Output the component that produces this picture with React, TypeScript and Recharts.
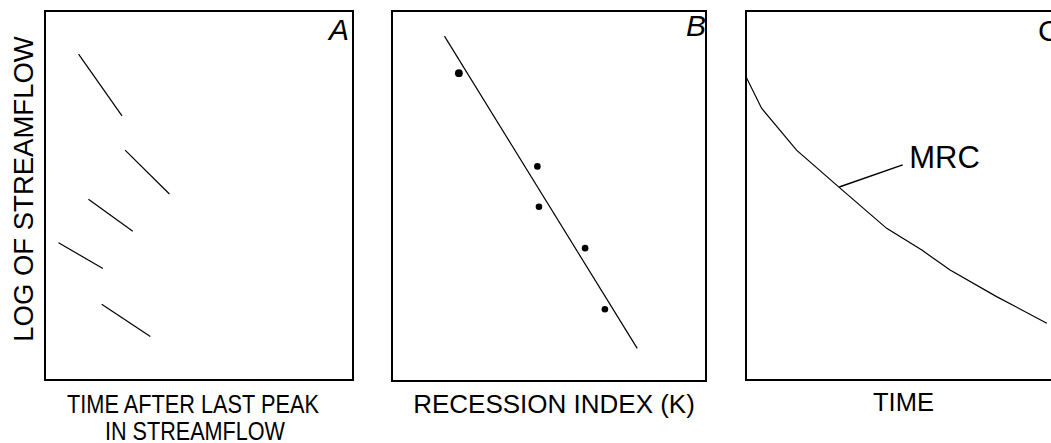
import React from "react";
import {
  ComposedChart,
  Line,
  Scatter,
  XAxis,
  YAxis,
  ReferenceArea,
  ReferenceDot,
  Label,
} from "recharts";

// Panel A: individual recession segments (x = time units, y = log flow units, 0-100 scale)
const segA1 = [{ x: 10.9, y: 88.3 }, { x: 25.0, y: 71.6 }];
const segA2 = [{ x: 26.0, y: 62.3 }, { x: 40.4, y: 50.4 }];
const segA3 = [{ x: 14.1, y: 49.0 }, { x: 28.5, y: 40.3 }];
const segA4 = [{ x: 4.4, y: 37.2 }, { x: 18.8, y: 30.2 }];
const segA5 = [{ x: 18.4, y: 20.5 }, { x: 34.2, y: 11.8 }];
const segmentsA = [segA1, segA2, segA3, segA4, segA5];

// Panel B: recession index points and fitted line
const pointsB = [
  { x: 21.3, y: 83.2, r: 3.9 },
  { x: 46.3, y: 58.0, r: 3.3 },
  { x: 46.8, y: 47.1, r: 3.3 },
  { x: 61.5, y: 35.9, r: 3.3 },
  { x: 67.8, y: 19.4, r: 3.3 },
];
const fitB = [{ x: 16.7, y: 93.2 }, { x: 78.1, y: 8.8 }];

// Panel C: master recession curve
const curveC = [
  { x: 0, y: 82.2 },
  { x: 5.0, y: 73.6 },
  { x: 16.1, y: 62.3 },
  { x: 29.4, y: 52.4 },
  { x: 44.8, y: 41.1 },
  { x: 56.0, y: 35.2 },
  { x: 65.0, y: 29.8 },
  { x: 79.8, y: 22.6 },
  { x: 95.8, y: 15.4 },
];
const leaderC = [{ x: 29.7, y: 52.3 }, { x: 49.9, y: 58.3 }];
const mrcLabel = { x: 52.0, y: 57.4, text: "MRC" };

const yLabelText = "LOG OF STREAMFLOW";
const xLabelA = ["TIME AFTER LAST PEAK", "IN STREAMFLOW"];
const xLabelB = "RECESSION INDEX (K)";
const xLabelC = "TIME";

const FONT = "'Liberation Sans', Arial, Helvetica, sans-serif";
const NARROW = "'Liberation Sans Narrow', 'Liberation Sans', Arial, sans-serif";

const letter = (txt: string, dxFromRight: number, dyFromTop: number) => (props: any) => {
  const vb = props.viewBox || {};
  return (
    <text
      x={vb.x + vb.width - dxFromRight}
      y={vb.y + dyFromTop}
      textAnchor="end"
      fontFamily={FONT}
      fontStyle="italic"
      fontSize={30}
      fill="#000"
    >
      {txt}
    </text>
  );
};

export default function App() {
  return (
    <div
      style={{
        position: "fixed",
        left: 0,
        top: 0,
        width: 1051,
        height: 443,
        overflow: "hidden",
        background: "#fff",
      }}
    >
      {/* Panel A */}
      <div style={{ position: "absolute", left: 0, top: 0 }}>
        <ComposedChart width={370} height={443} margin={{ top: 11, right: 17, left: 0, bottom: 0 }}>
          <XAxis
            dataKey="x"
            type="number"
            domain={[0, 100]}
            allowDataOverflow
            tick={false}
            tickLine={false}
            axisLine={false}
            height={63}
          >
            <Label
              content={(p: any) => {
                const vb = p.viewBox;
                const cx = vb.x + vb.width / 2 - 6;
                return (
                  <g>
                    <text x={cx} y={vb.y + 33} textAnchor="middle" fontFamily={NARROW} fontSize={25} textLength={252} lengthAdjust="spacingAndGlyphs" fill="#000">
                      {xLabelA[0]}
                    </text>
                    <text x={cx + 2} y={vb.y + 60} textAnchor="middle" fontFamily={NARROW} fontSize={25} textLength={180} lengthAdjust="spacingAndGlyphs" fill="#000">
                      {xLabelA[1]}
                    </text>
                  </g>
                );
              }}
            />
          </XAxis>
          <YAxis
            type="number"
            domain={[0, 100]}
            allowDataOverflow
            tick={false}
            tickLine={false}
            axisLine={false}
            width={45}
          >
            <Label
              content={(p: any) => {
                const vb = p.viewBox;
                const x = vb.x + 32.5;
                const y = 189;
                return (
                  <text
                    x={x}
                    y={y}
                    transform={`rotate(-90 ${x} ${y})`}
                    textAnchor="middle"
                    fontFamily={FONT}
                    fontSize={27.5}
                    fill="#000"
                  >
                    {yLabelText}
                  </text>
                );
              }}
            />
          </YAxis>
          <ReferenceArea x1={0} x2={100} y1={0} y2={100} fill="none" stroke="#000" strokeWidth={2} fillOpacity={0} ifOverflow="visible">
            <Label content={letter("A", 4, 29)} />
          </ReferenceArea>
          {segmentsA.map((seg, i) => (
            <Line
              key={i}
              data={seg}
              dataKey="y"
              stroke="#000"
              strokeWidth={1.2}
              dot={false}
              activeDot={false}
              isAnimationActive={false}
            />
          ))}
        </ComposedChart>
      </div>

      {/* Panel B */}
      <div style={{ position: "absolute", left: 370, top: 0 }}>
        <ComposedChart width={350} height={443} margin={{ top: 11, right: 14, left: 0, bottom: 0 }}>
          <XAxis
            dataKey="x"
            type="number"
            domain={[0, 100]}
            allowDataOverflow
            tick={false}
            tickLine={false}
            axisLine={false}
            height={62}
          >
            <Label
              content={(p: any) => {
                const vb = p.viewBox;
                return (
                  <text x={vb.x + vb.width / 2 + 5} y={vb.y + 32} textAnchor="middle" fontFamily={FONT} fontSize={26} fill="#000">
                    {xLabelB}
                  </text>
                );
              }}
            />
          </XAxis>
          <YAxis
            type="number"
            domain={[0, 100]}
            allowDataOverflow
            tick={false}
            tickLine={false}
            axisLine={false}
            width={22}
          />
          <ReferenceArea x1={0} x2={100} y1={0} y2={100} fill="none" stroke="#000" strokeWidth={2} fillOpacity={0} ifOverflow="visible">
            <Label content={letter("B", 0, 25)} />
          </ReferenceArea>
          <Line
            data={fitB}
            dataKey="y"
            stroke="#000"
            strokeWidth={1.2}
            dot={false}
            activeDot={false}
            isAnimationActive={false}
          />
          <Scatter
            data={pointsB}
            dataKey="y"
            fill="#000"
            isAnimationActive={false}
            shape={(p: any) => <circle cx={p.cx} cy={p.cy} r={p.payload?.r ?? 3.3} fill="#000" />}
          />
        </ComposedChart>
      </div>

      {/* Panel C */}
      <div style={{ position: "absolute", left: 700, top: 0 }}>
        <ComposedChart width={380} height={443} margin={{ top: 11, right: 20, left: 0, bottom: 0 }}>
          <XAxis
            dataKey="x"
            type="number"
            domain={[0, 100]}
            allowDataOverflow
            tick={false}
            tickLine={false}
            axisLine={false}
            height={63}
          >
            <Label
              content={(p: any) => {
                const vb = p.viewBox;
                return (
                  <text x={vb.x + vb.width / 2 + 0.5} y={vb.y + 31} textAnchor="middle" fontFamily={FONT} fontSize={25.5} fill="#000">
                    {xLabelC}
                  </text>
                );
              }}
            />
          </XAxis>
          <YAxis
            type="number"
            domain={[0, 100]}
            allowDataOverflow
            tick={false}
            tickLine={false}
            axisLine={false}
            width={46}
          />
          <ReferenceArea x1={0} x2={100} y1={0} y2={100} fill="none" stroke="#000" strokeWidth={2} fillOpacity={0} ifOverflow="visible">
            <Label
              content={(p: any) => {
                const vb = p.viewBox;
                return (
                  <text x={vb.x + 292} y={vb.y + 30} textAnchor="start" fontFamily={FONT} fontSize={30} fill="#000">
                    C
                  </text>
                );
              }}
            />
          </ReferenceArea>
          <Line
            data={curveC}
            dataKey="y"
            stroke="#000"
            strokeWidth={1.2}
            dot={false}
            activeDot={false}
            isAnimationActive={false}
          />
          <Line
            data={leaderC}
            dataKey="y"
            stroke="#000"
            strokeWidth={1.4}
            dot={false}
            activeDot={false}
            isAnimationActive={false}
          />
          <ReferenceDot
            x={mrcLabel.x}
            y={mrcLabel.y}
            r={0}
            fill="none"
            stroke="none"
            ifOverflow="visible"
          >
            <Label
              content={(p: any) => {
                const vb = p.viewBox || {};
                const cx = vb.x + (vb.width || 0) / 2;
                const cy = vb.y + (vb.height || 0) / 2;
                return (
                  <text x={cx} y={cy} textAnchor="start" fontFamily={FONT} fontSize={31} fill="#000">
                    {mrcLabel.text}
                  </text>
                );
              }}
            />
          </ReferenceDot>
        </ComposedChart>
      </div>
    </div>
  );
}
